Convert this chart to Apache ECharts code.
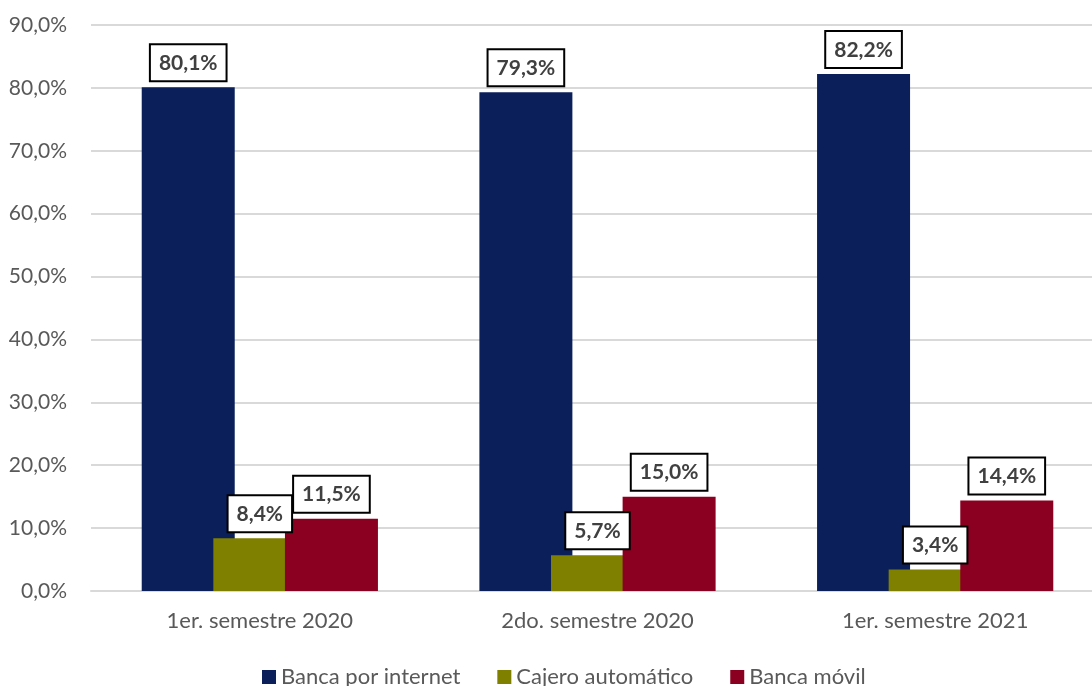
<!DOCTYPE html>
<html>
<head>
<meta charset="utf-8">
<title>Canales digitales</title>
<script src="https://cdn.jsdelivr.net/npm/echarts@6/dist/echarts.min.js"></script>
<style>
  html, body { margin: 0; padding: 0; background: #fff; overflow: hidden; }
  /* the plot runs slightly past the right edge of the window */
  #chart { width: 1104px; height: 686px; }
</style>
</head>
<body>
<div id="chart"></div>
<script>
// Periods on the category axis
const categories = ['1er. semestre 2020', '2do. semestre 2020', '1er. semestre 2021'];

// Share of transactions by channel (%)
const bancaInternet = [80.1, 79.3, 82.2];
const cajeroAutomatico = [8.4, 5.7, 3.4];
const bancaMovil = [11.5, 15.0, 14.4];

const seriesNames = ['Banca por internet', 'Cajero automático', 'Banca móvil'];
const seriesColors = ['#0B1F5B', '#7F7F00', '#8B0020'];

const FONT = 'Lato, "Open Sans", sans-serif';
const pct = v => v.toFixed(1).replace('.', ',') + '%';

const labelStyle = {
  show: true,
  position: 'top',
  distance: 7,
  formatter: p => pct(p.value),
  fontFamily: FONT,
  fontSize: 21,
  fontWeight: 'bold',
  color: '#404040',
  backgroundColor: '#fff',
  borderColor: '#000',
  borderWidth: 2,
  padding: [6, 8, 5, 8],
  lineHeight: 24
};

function barSeries(name, data, color) {
  return {
    name: name,
    type: 'bar',
    data: data,
    barWidth: 93,
    barGap: '-23%',
    itemStyle: { color: color },
    label: labelStyle
  };
}

const chart = echarts.init(document.getElementById('chart'));
chart.setOption({
  animation: false,
  textStyle: { fontFamily: FONT },
  grid: { left: 91, right: 0, top: 25, bottom: 95, containLabel: false },
  legend: {
    data: seriesNames,
    left: 262,
    top: 666,
    padding: 0,
    icon: 'rect',
    itemWidth: 14,
    itemHeight: 14,
    itemGap: 37,
    textStyle: { fontFamily: FONT, fontSize: 22, color: '#595959' }
  },
  xAxis: {
    type: 'category',
    data: categories,
    axisTick: { show: false },
    axisLine: { lineStyle: { color: '#D9D9D9', width: 2 } },
    axisLabel: { fontFamily: FONT, fontSize: 22, color: '#595959', margin: 19 }
  },
  yAxis: {
    type: 'value',
    min: 0,
    max: 90,
    interval: 10,
    axisLine: { show: false },
    axisTick: { show: false },
    splitLine: { lineStyle: { color: '#D9D9D9', width: 2 } },
    axisLabel: { fontFamily: FONT, fontSize: 21, color: '#595959', margin: 24, formatter: v => pct(v) }
  },
  series: [
    barSeries(seriesNames[0], bancaInternet, seriesColors[0]),
    barSeries(seriesNames[1], cajeroAutomatico, seriesColors[1]),
    barSeries(seriesNames[2], bancaMovil, seriesColors[2])
  ]
});
</script>
</body>
</html>
